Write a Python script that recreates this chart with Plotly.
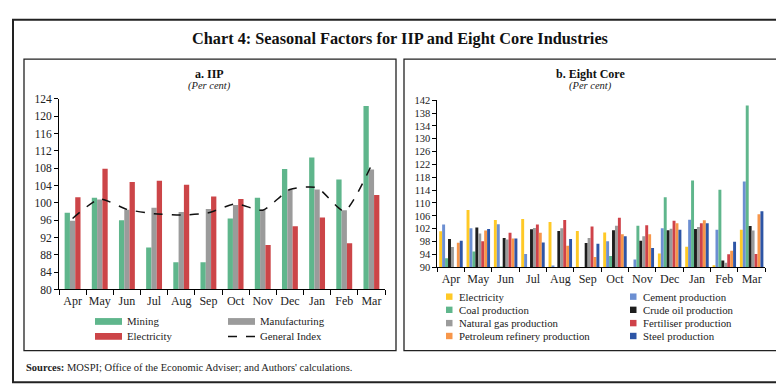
import plotly.graph_objects as go

W, H = 784, 387

months = ["Apr", "May", "Jun", "Jul", "Aug", "Sep", "Oct", "Nov", "Dec", "Jan", "Feb", "Mar"]

# Panel a: IIP seasonal factors
iip_mining = [97.7, 101.2, 96.0, 89.7, 86.3, 86.3, 96.4, 101.2, 107.8, 110.5, 105.4, 122.4]
iip_manufacturing = [95.9, 100.8, 98.4, 98.9, 97.9, 98.6, 99.5, 98.5, 103.1, 103.1, 98.3, 107.7]
iip_electricity = [101.3, 107.9, 104.8, 105.1, 104.2, 101.5, 100.9, 90.3, 94.6, 96.6, 90.7, 101.8]
iip_general = [96.4, 100.9, 98.5, 97.5, 97.2, 97.7, 99.8, 98.3, 103.1, 103.5, 98.1, 108.7]

# Panel b: Eight core seasonal factors
core_electricity = [101.2, 107.8, 104.7, 105.0, 104.1, 101.3, 100.8, 89.7, 94.3, 96.4, 90.6, 101.7]
core_cement = [103.3, 102.1, 103.4, 94.1, 90.5, 89.9, 98.1, 92.4, 102.1, 104.8, 101.7, 116.7]
core_coal = [92.8, 94.9, 90.2, 89.6, 89.7, 89.7, 93.5, 102.9, 111.8, 117.0, 114.1, 140.4]
core_crude = [98.8, 102.4, 99.1, 101.8, 101.3, 97.5, 101.5, 98.2, 101.5, 101.9, 92.1, 102.8]
core_natgas = [96.3, 100.5, 98.6, 102.2, 102.1, 99.1, 102.9, 99.6, 102.0, 102.5, 91.4, 101.4]
core_fertiliser = [89.5, 98.1, 100.7, 103.3, 104.7, 102.7, 105.4, 103.1, 104.5, 103.7, 94.0, 94.1]
core_petroleum = [97.6, 101.4, 98.9, 100.7, 96.7, 93.2, 100.3, 100.3, 103.7, 104.6, 95.1, 106.5]
core_steel = [98.2, 101.9, 98.9, 97.7, 98.8, 97.3, 99.6, 96.0, 101.7, 103.7, 97.9, 107.4]

iip_names = ["Mining", "Manufacturing", "Electricity"]
iip_colors = ["#5FB68C", "#9B9B9B", "#CC4548"]
iip_series = [iip_mining, iip_manufacturing, iip_electricity]

core_names = ["Electricity", "Cement production", "Coal production", "Crude oil production",
              "Natural gas production", "Fertiliser production",
              "Petroleum refinery production", "Steel production"]
core_colors = ["#FFC926", "#6C8FD2", "#5FB68C", "#1E1E1E", "#9B9B9B", "#CF4249", "#F7964A", "#2D55A6"]
core_series = [core_electricity, core_cement, core_coal, core_crude, core_natgas,
               core_fertiliser, core_petroleum, core_steel]

SERIF = "Liberation Serif"
TXT = "#222222"


def px(x):
    return x / W


def py(y):
    return 1 - y / H


fig = go.Figure()

bw = 0.195
for i, (name, col, vals) in enumerate(zip(iip_names, iip_colors, iip_series)):
    fig.add_trace(go.Bar(x=months, y=vals, name=name, marker=dict(color=col, line=dict(width=0)),
                         width=bw, offset=-1.5 * bw + i * bw, xaxis="x", yaxis="y", showlegend=False))
fig.add_trace(go.Scatter(x=months, y=iip_general, name="General Index", mode="lines",
                         line=dict(color="#111111", width=1.5, dash="dash", shape="spline", smoothing=0.6),
                         xaxis="x", yaxis="y", showlegend=False))

for name, col, vals in zip(core_names, core_colors, core_series):
    fig.add_trace(go.Bar(x=months, y=vals, name=name, marker=dict(color=col, line=dict(width=0)),
                         xaxis="x2", yaxis="y2", showlegend=False))

axis_common = dict(showline=True, linecolor="black", linewidth=1, ticks="outside", tickcolor="black",
                   showgrid=False, zeroline=False, fixedrange=True)

fig.update_layout(
    width=W, height=H, margin=dict(l=0, r=0, t=0, b=0),
    paper_bgcolor="white", plot_bgcolor="white",
    barmode="group", bargap=0.14, bargroupgap=0,
    font=dict(family=SERIF, size=11, color=TXT),
    showlegend=False,
    xaxis=dict(domain=[px(51), px(377)], anchor="y", type="category", tickson="boundaries",
               ticklen=5, tickangle=0, tickfont=dict(size=12, family=SERIF, color=TXT), **axis_common),
    yaxis=dict(domain=[py(284.3), py(87.7)], anchor="x", range=[80, 124], tick0=80, dtick=4,
               ticklen=4, tickfont=dict(size=11.5, family=SERIF, color=TXT), **axis_common),
    xaxis2=dict(domain=[px(429.3), px(757.3)], anchor="y2", type="category", tickson="boundaries",
                ticklen=4, tickangle=0, tickfont=dict(size=12, family=SERIF, color=TXT), **axis_common),
    yaxis2=dict(domain=[py(261.3), py(89)], anchor="x2", range=[90, 142], tick0=90, dtick=4,
                ticklen=4, tickfont=dict(size=10.5, family=SERIF, color=TXT), **axis_common),
)

shapes = [
    dict(type="rect", xref="paper", yref="paper", x0=px(5), x1=px(779), y0=py(380), y1=py(6),
         line=dict(color="#222222", width=2)),
    dict(type="rect", xref="paper", yref="paper", x0=px(16), x1=px(388), y0=py(347.5), y1=py(46.5),
         line=dict(color="#222222", width=1.3)),
    dict(type="rect", xref="paper", yref="paper", x0=px(396), x1=px(770), y0=py(347.5), y1=py(46.5),
         line=dict(color="#222222", width=1.3)),
]

annotations = [
    dict(text="<b>Chart 4: Seasonal Factors for IIP and Eight Core Industries</b>", x=px(392), y=py(25),
         font=dict(family=SERIF, size=16.3, color="#111111")),
    dict(text="<b>a. IIP</b>", x=px(201), y=py(61.5), font=dict(family=SERIF, size=12, color="#111111")),
    dict(text="<i>(Per cent)</i>", x=px(201), y=py(74), font=dict(family=SERIF, size=10.5, color=TXT)),
    dict(text="<b>b. Eight Core</b>", x=px(582), y=py(61.5), font=dict(family=SERIF, size=12, color="#111111")),
    dict(text="<i>(Per cent)</i>", x=px(582), y=py(74), font=dict(family=SERIF, size=10.5, color=TXT)),
    dict(text="<b>Sources:</b> MOSPI; Office of the Economic Adviser; and Authors' calculations.",
         x=px(16), y=py(365), xanchor="left", font=dict(family=SERIF, size=10.5, color=TXT)),
]
for a in annotations:
    a.setdefault("xanchor", "center")
    a.update(xref="paper", yref="paper", yanchor="middle", showarrow=False)

# Legend for panel a (manual, two columns)
iip_leg = [(iip_names[0], iip_colors[0], 87, 317.3, "bar"),
           (iip_names[1], iip_colors[1], 220, 317.3, "bar"),
           (iip_names[2], iip_colors[2], 87, 332.7, "bar"),
           ("General Index", "#111111", 220, 332.7, "line")]
for name, col, lx, ly, kind in iip_leg:
    if kind == "bar":
        shapes.append(dict(type="rect", xref="paper", yref="paper", x0=px(lx), x1=px(lx + 27),
                           y0=py(ly + 3.5), y1=py(ly - 3.5), fillcolor=col, line=dict(width=0)))
    else:
        shapes.append(dict(type="line", xref="paper", yref="paper", x0=px(lx), x1=px(lx + 27),
                           y0=py(ly), y1=py(ly), line=dict(color=col, width=1.5, dash="dash")))
    annotations.append(dict(text=name, x=px(lx + 30), y=py(ly), xref="paper", yref="paper",
                            xanchor="left", yanchor="middle", showarrow=False,
                            font=dict(family=SERIF, size=10.8, color=TXT)))

# Legend for panel b (manual, two columns x four rows)
rows_y = [291.7, 305.3, 319.0, 332.3]
cols_x = [438, 622]
for k, (name, col) in enumerate(zip(core_names, core_colors)):
    lx = cols_x[k % 2]
    ly = rows_y[k // 2]
    shapes.append(dict(type="rect", xref="paper", yref="paper", x0=px(lx), x1=px(lx + 6.5),
                       y0=py(ly + 3.3), y1=py(ly - 3.3), fillcolor=col, line=dict(width=0)))
    annotations.append(dict(text=name, x=px(lx + 10.5), y=py(ly), xref="paper", yref="paper",
                            xanchor="left", yanchor="middle", showarrow=False,
                            font=dict(family=SERIF, size=10.8, color=TXT)))

fig.update_layout(shapes=shapes, annotations=annotations)

fig.write_html("out.html")
